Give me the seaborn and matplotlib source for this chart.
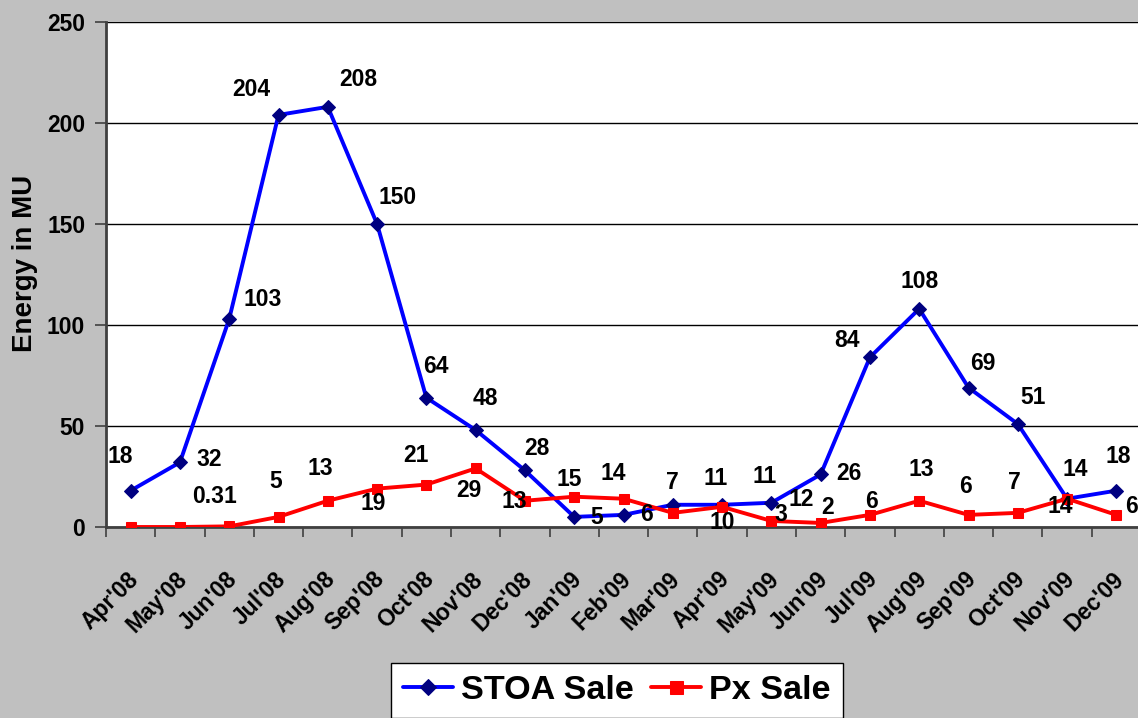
import matplotlib
matplotlib.use("Agg")
import matplotlib.pyplot as plt
import matplotlib.transforms as mtransforms
import seaborn as sns
import pandas as pd

months = ["Apr'08", "May'08", "Jun'08", "Jul'08", "Aug'08", "Sep'08", "Oct'08",
          "Nov'08", "Dec'08", "Jan'09", "Feb'09", "Mar'09", "Apr'09", "May'09",
          "Jun'09", "Jul'09", "Aug'09", "Sep'09", "Oct'09", "Nov'09", "Dec'09"]
stoa_sale = [18, 32, 103, 204, 208, 150, 64, 48, 28, 5, 6, 11, 11, 12, 26, 84, 108, 69, 51, 14, 18]
px_sale = [0, 0, 0.31, 5, 13, 19, 21, 29, 13, 15, 14, 7, 10, 3, 2, 6, 13, 6, 7, 14, 6]
stoa_labels = ["18", "32", "103", "204", "208", "150", "64", "48", "28", "5", "6", "11", "11",
               "12", "26", "84", "108", "69", "51", "14", "18"]
px_labels = ["", "", "0.31", "5", "13", "19", "21", "29", "13", "15", "14", "7", "10", "3",
             "2", "6", "13", "6", "7", "14", "6"]
y_ticks = [0, 50, 100, 150, 200, 250]

# label placement offsets (pixels: right, down)
stoa_off = [(-10, -34), (29, -3), (33, -19), (-27, -25), (31, -27), (20, -27), (10, -31),
            (10, -32), (12, -22), (22, 1), (23, 0), (43, -26), (43, -28), (30, -3), (28, -1),
            (-23, -17), (0, -27), (14, -24), (15, -26), (8, -29), (2, -34)]
px_off = [None, None, (-15, -30), (-3, -35), (-7, -32), (-4, 15), (-10, -29), (-7, 22),
          (-11, 1), (-5, -17), (-10, -25), (0, -30), (0, 16), (10, -6), (7, -15), (2, -13),
          (2, -31), (-3, -28), (-3, -30), (-7, 8), (15, -8)]

sns.set_theme(style="white")
plt.rcParams['font.family'] = ['Liberation Sans', 'DejaVu Sans']
plt.rcParams['font.weight'] = 'bold'
plt.rcParams['text.color'] = 'black'
plt.rcParams['axes.labelcolor'] = 'black'
plt.rcParams['xtick.color'] = 'black'
plt.rcParams['ytick.color'] = 'black'

W, H = 1138, 718
LBL = 16.5
fig = plt.figure(figsize=(W / 100, H / 100), dpi=100, facecolor='#C0C0C0')
ax = fig.add_axes([106 / W, (H - 527) / H, 1035 / W, (527 - 22) / H])
ax.set_facecolor('white')

x = list(range(len(months)))
df = pd.DataFrame({'x': x, 'stoa': stoa_sale, 'px': px_sale})

sns.lineplot(data=df, x='x', y='stoa', ax=ax, color='#0000FF', linewidth=2.8,
             marker='D', markersize=6.8, markerfacecolor='#000080', markeredgecolor='#000080',
             label='STOA Sale', zorder=3)
sns.lineplot(data=df, x='x', y='px', ax=ax, color='#FF0000', linewidth=2.8,
             marker='s', markersize=7.8, markerfacecolor='#FF0000', markeredgecolor='#FF0000',
             label='Px Sale', zorder=4)

ax.set_xlim(-0.5, 20.5)
ax.set_ylim(0, 250)
ax.set_yticks(y_ticks)
ax.set_yticklabels([str(v) for v in y_ticks], fontsize=LBL, fontweight='bold', color='black')
ax.yaxis.grid(True, color='black', linewidth=1.0)
ax.set_axisbelow(True)

# x ticks at category boundaries, labels at centers
ax.set_xticks([i + 0.5 for i in range(-1, 21)])
ax.set_xticklabels([])
ax.set_xticks(x, minor=True)
ax.set_xticklabels(months, minor=True, fontsize=LBL, fontweight='bold', color='black')
ax.tick_params(axis='x', which='major', direction='out', length=7, width=1.2, color='#404040', bottom=True)
ax.tick_params(axis='x', which='minor', length=0, pad=35, bottom=True)
shift = mtransforms.ScaledTranslation(4 / 100, 0, fig.dpi_scale_trans)
for lab in ax.get_xticklabels(minor=True):
    lab.set_rotation(45)
    lab.set_ha('right')
    lab.set_va('center')
    lab.set_rotation_mode('anchor')
    lab.set_transform(lab.get_transform() + shift)
ax.tick_params(axis='y', direction='out', length=8, width=1.2, color='#404040', left=True, pad=7)

for s in ['top', 'right']:
    ax.spines[s].set_visible(False)
for s in ['left', 'bottom']:
    ax.spines[s].set_color('#404040')
    ax.spines[s].set_linewidth(2)

ax.set_xlabel('')
ax.set_ylabel('Energy in MU', fontsize=20, fontweight='bold', color='black')
ax.yaxis.set_label_coords(-0.066, 0.523)

for i in x:
    dx, dy = stoa_off[i]
    ax.annotate(stoa_labels[i], (i, stoa_sale[i]), xytext=(dx, -dy), textcoords='offset pixels',
                ha='center', va='center', fontsize=LBL, fontweight='bold', color='black', zorder=5)
    if px_labels[i]:
        dx, dy = px_off[i]
        ax.annotate(px_labels[i], (i, px_sale[i]), xytext=(dx, -dy), textcoords='offset pixels',
                    ha='center', va='center', fontsize=LBL, fontweight='bold', color='black', zorder=5)

leg = ax.legend(loc='upper center', bbox_to_anchor=(617 / W, (H - 662.7) / H),
                bbox_transform=fig.transFigure, ncol=2, fontsize=24.6, frameon=True,
                fancybox=False, shadow=False, handlelength=1.45, handletextpad=0.25,
                columnspacing=0.5, borderpad=0.35, borderaxespad=0, markerscale=1.2)
leg.get_frame().set_edgecolor('black')
leg.get_frame().set_linewidth(1.0)
leg.get_frame().set_facecolor('white')
leg.get_frame().set_alpha(1)
for t in leg.get_texts():
    t.set_fontweight('bold')
    t.set_color('black')

fig.savefig('out.png', dpi=100, facecolor=fig.get_facecolor())
